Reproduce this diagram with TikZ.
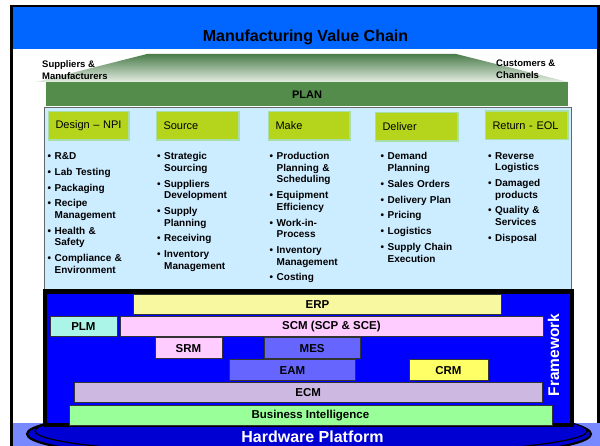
\documentclass[tikz,border=0pt]{standalone}
\usepackage{fontspec}
\setmainfont{Liberation Sans}
\definecolor{titleblue}{RGB}{0,102,255}
\definecolor{plangreen}{RGB}{84,140,76}
\definecolor{trapdark}{RGB}{74,124,74}
\definecolor{traplight}{RGB}{228,237,226}
\definecolor{lightbg}{RGB}{204,236,255}
\definecolor{stagefill}{RGB}{181,212,28}
\definecolor{stageedge}{RGB}{168,222,168}
\definecolor{fwblue}{RGB}{0,0,255}
\definecolor{erpc}{RGB}{248,248,160}
\definecolor{plmc}{RGB}{170,245,232}
\definecolor{pinkc}{RGB}{255,204,255}
\definecolor{mesc}{RGB}{102,102,255}
\definecolor{crmc}{RGB}{255,255,102}
\definecolor{ecmc}{RGB}{204,184,224}
\definecolor{bic}{RGB}{153,255,153}
\definecolor{hwband}{RGB}{120,136,255}
\definecolor{hwblue}{RGB}{0,0,210}
\newcommand{\fsz}[2]{\fontsize{#1}{#2}\selectfont}
\newcommand{\bitem}[1]{\hangindent=7pt\hangafter=1\noindent\makebox[7pt][l]{•}#1\par}
\newcommand{\nl}{\newline}
\begin{document}
\begin{tikzpicture}[x=1pt,y=-1pt,
  stagebox/.style={draw=stageedge, line width=1.5pt, fill=stagefill, inner xsep=7pt, inner ysep=0pt,
    align=left, minimum height=28.5pt, font=\fsz{11}{13}, anchor=north west},
  bullets/.style={anchor=north west, inner sep=0pt, text width=92pt,
    font=\fsz{10}{11.6}\bfseries\raggedright\setlength{\parskip}{4.2pt}},
  bar/.style={draw=black!80, line width=0.8pt, inner sep=0pt, anchor=north west,
    font=\fsz{11.5}{13}\bfseries},
  sidelabel/.style={anchor=north west, inner sep=0pt, align=left, font=\fsz{9.5}{11.7}\bfseries}]
\useasboundingbox (0,0) rectangle (600,446);
\clip (0,0) rectangle (600,446);
\fill[white] (0,0) rectangle (600,446);
% title bar and slide frame
\fill[titleblue] (12,7) rectangle (598,49.5);
\draw[line width=2.6pt] (11.3,460) -- (11.3,6.2) -- (598.7,6.2) -- (598.7,423);
\node[font=\fsz{16}{18}\bfseries] (title) at (305.5,37) {Manufacturing Value Chain};
% trapezoid
\shade[top color=trapdark, bottom color=traplight] (147,54) -- (456,54) -- (568,82) -- (36,82) -- cycle;
\node[sidelabel] (suppliers) at (42,60.5) {Suppliers \&\\Manufacturers};
\node[sidelabel] (customers) at (496,60) {Customers \&\\Channels};
% plan
\fill[plangreen] (46,82) rectangle (568,106);
\node[font=\fsz{11}{13}\bfseries] (plan) at (307,95) {PLAN};
% light blue area
\draw[draw=black!60, line width=1pt, fill=lightbg] (44,107.5) rectangle (571,300);
% stages
\node[stagebox, text width=66.5pt] (design) at (47.75,110.75) {Design – NPI};
\node[stagebox, text width=68.5pt] (source) at (155.75,110.75) {Source};
\node[stagebox, text width=67.5pt] (make) at (267.75,110.75) {Make};
\node[stagebox, text width=68.5pt] (deliver) at (374.75,111.75) {Deliver};
\node[stagebox, text width=68.5pt] (return) at (484.75,110.25) {Return - EOL};
% bullet lists
\node[bullets] (designlist) at (47.5,152.3) {\bitem{R\&D}\bitem{Lab Testing}\bitem{Packaging}\bitem{Recipe\nl Management}\bitem{Health \&\nl Safety}\bitem{Compliance \&\nl Environment}};
\node[bullets] (sourcelist) at (157,152.3) {\bitem{Strategic\nl Sourcing}\bitem{Suppliers\nl Development}\bitem{Supply\nl Planning}\bitem{Receiving}\bitem{Inventory\nl Management}};
\node[bullets] (makelist) at (269.5,152.3) {\bitem{Production\nl Planning \&\nl Scheduling}\bitem{Equipment\nl Efficiency}\bitem{Work-in-\nl Process}\bitem{Inventory\nl Management}\bitem{Costing}};
\node[bullets] (deliverlist) at (380.5,152.5) {\bitem{Demand\nl Planning}\bitem{Sales Orders}\bitem{Delivery Plan}\bitem{Pricing}\bitem{Logistics}\bitem{Supply Chain\nl Execution}};
\node[bullets] (returnlist) at (488,152) {\bitem{Reverse\nl Logistics}\bitem{Damaged\nl products}\bitem{Quality \&\nl Services}\bitem{Disposal}};
% hardware platform
\fill[hwband] (12.6,423) rectangle (600,446);
\draw[line width=2.2pt, fill=hwblue] (309,434) ellipse [x radius=282pt, y radius=28pt];
\draw[line width=1.2pt, fill=hwblue] (311,431) ellipse [x radius=276pt, y radius=24pt];
% framework
\draw[line width=4.5pt, fill=fwblue] (45,291.5) rectangle (571.8,425);
\node[bar, fill=erpc, minimum width=368pt, minimum height=20pt] (erp) at (133,294) {ERP};
\node[bar, fill=plmc, minimum width=67pt, minimum height=20pt] (plm) at (49.5,316) {PLM};
\node[bar, fill=pinkc, minimum width=423pt, minimum height=20pt] (scm) at (119.5,316) {SCM (SCP \& SCE)};
\node[bar, fill=pinkc, minimum width=67pt, minimum height=21pt] (srm) at (154.5,337.5) {SRM};
\node[bar, fill=mesc, minimum width=96.5pt, minimum height=21pt] (mes) at (263.5,337.5) {MES};
\node[bar, fill=mesc, minimum width=126pt, minimum height=20.5pt] (eam) at (229,359.5) {EAM};
\node[bar, fill=crmc, minimum width=79pt, minimum height=20.5pt] (crm) at (408.5,359.5) {CRM};
\node[bar, fill=ecmc, minimum width=467.5pt, minimum height=20pt] (ecm) at (74,382) {ECM};
\node[bar, fill=bic, minimum width=483pt, minimum height=20pt] (bi) at (68.5,405) {Business Intelligence};
\node[rotate=90, text=white, font=\fsz{15.5}{17}\bfseries] (fw) at (553.5,355) {Framework};
\node[text=white, font=\fsz{16}{18}\bfseries] (hw) at (312.5,437) {Hardware Platform};
\end{tikzpicture}
\end{document}
